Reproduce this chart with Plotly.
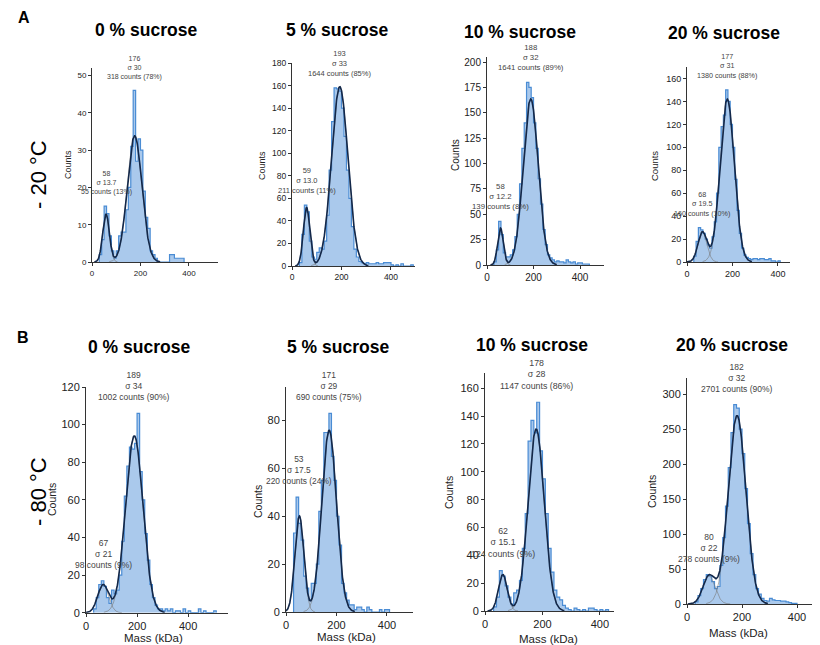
import numpy as np
import plotly.graph_objects as go

# ---------------- data ----------------
BIN_WIDTH = 10          # kDa, histogram bins (start at 0)
FIT_BIN_WIDTH = 8       # kDa, scaling of the Gaussian fits

conc_titles = ["0 % sucrose", "5 % sucrose", "10 % sucrose", "20 % sucrose"]
row_letters = ["A", "B"]
temp_labels = ["- 20 °C", "- 80 °C"]
x_title = "Mass (kDa)"
y_title = "Counts"

# -20 °C histograms (counts per 10 kDa bin, starting at 0 kDa)
counts_m20_0 = [0, 0, 0, 2, 6, 15, 13, 7, 3, 1,
                3, 7, 8, 8, 14, 20, 31, 46, 27, 33,
                30, 19, 12, 9, 3, 2, 1, 0, 0, 0,
                0, 0, 2, 2, 1, 1, 1, 1]
counts_m20_5 = [0, 0, 0, 3, 28, 54, 48, 22, 8, 6,
                12, 16, 15, 22, 45, 85, 128, 158, 157, 155,
                140, 115, 85, 60, 35, 15, 8, 4, 3, 2,
                3, 2, 2, 2, 3, 2, 2, 3, 3, 3,
                1, 0, 1, 0, 2, 0, 0, 0, 1]
counts_m20_10 = [0, 0, 0, 3, 15, 43, 30, 12, 8, 8,
                 10, 15, 28, 50, 80, 115, 140, 180, 175, 165,
                 140, 115, 85, 60, 35, 20, 10, 7, 5, 3,
                 4, 3, 3, 2, 5, 3, 2, 3, 1, 2,
                 2, 1, 1, 1]
counts_m20_20 = [0, 0, 0, 5, 18, 30, 28, 25, 20, 15,
                 12, 22, 35, 60, 100, 118, 128, 150, 140, 120,
                 100, 72, 45, 25, 12, 6, 4, 3, 2, 3,
                 3, 2, 3, 3, 2, 2, 3, 1, 1, 0,
                 1]
# -80 °C histograms
counts_m80_0 = [0, 0, 0, 2, 8, 15, 17, 14, 8, 5,
                12, 10, 12, 20, 38, 62, 78, 88, 87, 90,
                106, 75, 60, 42, 28, 15, 8, 4, 2, 2,
                1, 2, 1, 2, 0, 1, 1, 0, 2, 0,
                1, 0, 0, 0, 2, 0, 1, 0, 0, 0,
                1]
counts_m80_5 = [0, 0, 0, 33, 48, 37, 30, 15, 10, 5,
                12, 12, 20, 42, 55, 75, 75, 83, 65, 55,
                40, 28, 12, 8, 5, 3, 3, 1, 2, 2,
                1, 0, 2, 1, 0, 0, 0, 1, 0, 1,
                1]
counts_m80_10 = [0, 0, 0, 3, 10, 29, 25, 18, 10, 5,
                 13, 15, 22, 45, 70, 122, 137, 128, 150, 115,
                 95, 70, 45, 28, 15, 10, 8, 4, 2, 1,
                 0, 2, 1, 0, 1, 0, 2, 2, 1, 0,
                 1, 0, 1]
counts_m80_20 = [0, 0, 0, 3, 12, 22, 35, 42, 40, 32,
                 22, 25, 55, 95, 140, 195, 245, 285, 280, 250,
                 215, 165, 115, 72, 42, 22, 14, 8, 5, 4,
                 8, 6, 5, 5, 4, 4, 3, 2, 1, 1]

# Gaussian fit results shown on the chart: [small peak, main peak]
mu_m20_0, sigma_m20_0, n_m20_0, pct_m20_0 = [58, 176], [13.7, 30], [55, 318], [13, 78]
mu_m20_5, sigma_m20_5, n_m20_5, pct_m20_5 = [59, 193], [13.0, 33], [211, 1644], [11, 85]
mu_m20_10, sigma_m20_10, n_m20_10, pct_m20_10 = [58, 188], [12.2, 32], [139, 1641], [8, 89]
mu_m20_20, sigma_m20_20, n_m20_20, pct_m20_20 = [68, 177], [19.5, 31], [160, 1380], [10, 88]
mu_m80_0, sigma_m80_0, n_m80_0, pct_m80_0 = [67, 189], [21, 34], [98, 1002], [9, 90]
mu_m80_5, sigma_m80_5, n_m80_5, pct_m80_5 = [53, 171], [17.5, 29], [220, 690], [24, 75]
mu_m80_10, sigma_m80_10, n_m80_10, pct_m80_10 = [62, 178], [15.1, 28], [124, 1147], [9, 86]
mu_m80_20, sigma_m80_20, n_m80_20, pct_m80_20 = [80, 182], [22, 32], [278, 2701], [9, 90]

x_ticks = [0, 200, 400]

panels_counts = [counts_m20_0, counts_m20_5, counts_m20_10, counts_m20_20,
                 counts_m80_0, counts_m80_5, counts_m80_10, counts_m80_20]
panels_mu = [mu_m20_0, mu_m20_5, mu_m20_10, mu_m20_20, mu_m80_0, mu_m80_5, mu_m80_10, mu_m80_20]
panels_sigma = [sigma_m20_0, sigma_m20_5, sigma_m20_10, sigma_m20_20,
                sigma_m80_0, sigma_m80_5, sigma_m80_10, sigma_m80_20]
panels_n = [n_m20_0, n_m20_5, n_m20_10, n_m20_20, n_m80_0, n_m80_5, n_m80_10, n_m80_20]
panels_pct = [pct_m20_0, pct_m20_5, pct_m20_10, pct_m20_20, pct_m80_0, pct_m80_5, pct_m80_10, pct_m80_20]

# ---------------- layout / style ----------------
# The page body has an 8 px margin, so the figure is drawn at (8, 8) in the window;
# all positions below are window pixels and are converted accordingly.
OFF = 8
W, H = 820 - OFF, 645 - OFF
# panel geometry in window pixels: x-left, x-right, y-bottom, y-top
geom = [(92, 218, 262, 68), (292, 415, 266, 63), (487, 604, 265, 57), (687, 790, 262, 67),
        (86, 228, 612.7, 387), (286, 413, 612, 387), (485, 614, 611, 373), (687, 819, 604, 378)]
x_max = [520, 497, 503, 453, 556, 503, 449, 480]
y_max = [52, 180, 205, 170, 120, 94, 171, 323]
y_dtick = [10, 20, 25, 20, 20, 20, 20, 50]
tick_fs = [8, 8.5, 10, 9, 11, 11, 11, 11]
ann_fs = [7, 7.5, 7.8, 7.2, 8.5, 8.4, 8.8, 8.5]
title_pos = [(146, 30), (337, 30), (520, 32), (724, 33),
             (139, 347), (338, 347), (532, 345), (732, 345)]
ytitle_pos = [(68, 165), (262, 166), (455, 155), (655, 166),
              (52, 500), (258, 502), (449, 493), (652, 492)]
ytitle_fs = [9, 9, 10, 9.5, 10.5, 10.5, 10.5, 10.5]
xtitle_pos = [None, None, None, None, (153, 638), (346, 637), (548, 639), (738, 633)]
row_label_pos = [(24, 18, 38, 175), (23, 338, 38, 492)]

FILL = "rgba(118,168,224,0.62)"
EDGE = "rgb(74,140,212)"
FIT = "#13284a"
COMP = "rgba(120,120,120,0.75)"
FONT = "Liberation Sans, Arial, sans-serif"

fig = go.Figure()
layout = dict(width=W, height=H, margin=dict(l=0, r=0, t=0, b=0, autoexpand=False),
              paper_bgcolor="white", plot_bgcolor="white", showlegend=False, template="none")
annotations = []


def gauss(x, mu, s, n):
    return n * FIT_BIN_WIDTH / (s * np.sqrt(2 * np.pi)) * np.exp(-0.5 * ((x - mu) / s) ** 2)


def paper(px, py):
    return (px - OFF) / W, 1 - (py - OFF) / H


for i in range(8):
    k = "" if i == 0 else str(i + 1)
    xa, ya = "x" + k, "y" + k
    xl, xr, yb, yt = geom[i]
    counts = panels_counts[i]
    nz = [j for j, c in enumerate(counts) if c > 0]
    j0, j1 = nz[0], nz[-1]
    xs = [j0 * BIN_WIDTH] + [j * BIN_WIDTH for j in range(j0, j1 + 1)] + [(j1 + 1) * BIN_WIDTH]
    ys = [0] + counts[j0:j1 + 1] + [0]
    fig.add_trace(go.Scatter(x=xs, y=ys, mode="lines", line=dict(shape="hv", color=EDGE, width=1.2),
                             fill="tozeroy", fillcolor=FILL, xaxis=xa, yaxis=ya, hoverinfo="skip"))
    mus, sgs, ns = panels_mu[i], panels_sigma[i], panels_n[i]
    # individual Gaussian components (thin grey)
    for mu, s, n in zip(mus, sgs, ns):
        xg = np.linspace(max(0, mu - 3.5 * s), mu + 3.5 * s, 200)
        fig.add_trace(go.Scatter(x=xg, y=gauss(xg, mu, s, n), mode="lines",
                                 line=dict(color=COMP, width=0.8), xaxis=xa, yaxis=ya, hoverinfo="skip"))
    # summed fit (dark)
    lo = max(0, min(m - 3.5 * s for m, s in zip(mus, sgs)))
    hi = max(m + 3.5 * s for m, s in zip(mus, sgs))
    xg = np.linspace(lo, hi, 400)
    ysum = sum(gauss(xg, m, s, n) for m, s, n in zip(mus, sgs, ns))
    fig.add_trace(go.Scatter(x=xg, y=ysum, mode="lines", line=dict(color=FIT, width=1.6),
                             xaxis=xa, yaxis=ya, hoverinfo="skip"))

    x0p, y0p = paper(xl, yb)
    x1p, y1p = paper(xr, yt)
    axis_common = dict(showline=True, linecolor="#333", linewidth=1, ticks="outside", ticklen=3,
                       tickcolor="#333", showgrid=False, zeroline=False, automargin=False,
                       mirror=False, tickfont=dict(family=FONT, size=tick_fs[i], color="#222"))
    layout["xaxis" + k] = dict(axis_common, domain=[x0p, min(1.0, x1p)], range=[0, x_max[i]], anchor=ya,
                               tickvals=x_ticks)
    layout["yaxis" + k] = dict(axis_common, domain=[y0p, y1p], range=[0, y_max[i]],
                               anchor=xa, dtick=y_dtick[i])

    # fit labels above each peak
    for mu, s, n, p in zip(mus, sgs, ns, panels_pct[i]):
        near = [c for j, c in enumerate(counts) if abs((j + 0.5) * BIN_WIDTH - mu) <= s]
        ylab = max(near) + 0.04 * y_max[i]
        annotations.append(dict(x=mu, y=ylab, xref=xa, yref=ya, yanchor="bottom", xanchor="center",
                                showarrow=False, align="center",
                                text=f"{mu}<br>σ {s}<br>{n} counts ({p}%)",
                                font=dict(family=FONT, size=ann_fs[i], color="#444")))
    # panel title
    tx, ty = paper(*title_pos[i])
    annotations.append(dict(x=tx, y=ty, xref="paper", yref="paper", showarrow=False,
                            xanchor="center", yanchor="middle", text="<b>" + conc_titles[i % 4] + "</b>",
                            font=dict(family=FONT, size=17.5, color="black")))
    # axis titles
    ax_, ay_ = paper(*ytitle_pos[i])
    annotations.append(dict(x=ax_, y=ay_, xref="paper", yref="paper", showarrow=False, textangle=-90,
                            xanchor="center", yanchor="middle", text=y_title,
                            font=dict(family=FONT, size=ytitle_fs[i], color="#222")))
    if xtitle_pos[i] is not None:
        bx, by = paper(*xtitle_pos[i])
        annotations.append(dict(x=bx, y=by, xref="paper", yref="paper", showarrow=False,
                                xanchor="center", yanchor="middle", text=x_title,
                                font=dict(family=FONT, size=11.5, color="#222")))

# row letters and temperature labels
for r, (lx, ly, tx2, ty2) in enumerate(row_label_pos):
    a, b = paper(lx, ly)
    annotations.append(dict(x=a, y=b, xref="paper", yref="paper", showarrow=False,
                            xanchor="center", yanchor="middle", text="<b>" + row_letters[r] + "</b>",
                            font=dict(family=FONT, size=16, color="black")))
    a, b = paper(tx2, ty2)
    annotations.append(dict(x=a, y=b, xref="paper", yref="paper", showarrow=False,
                            xanchor="center", yanchor="middle", text=temp_labels[r], textangle=-90,
                            font=dict(family=FONT, size=22, color="black")))

layout["annotations"] = annotations
fig.update_layout(**layout)
fig.write_html("out.html")
